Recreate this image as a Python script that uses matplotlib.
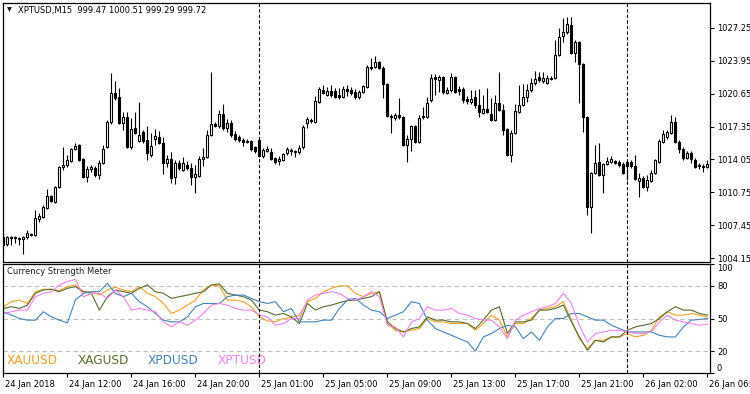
import numpy as np
import matplotlib.pyplot as plt
import matplotlib.transforms as mtransforms

######### data ###############################
symbol_title = "XPTUSD,M15  999.47 1000.51 999.29 999.72"

opens = [1006.3, 1005.6, 1006.2, 1006.3, 1006.2, 1006.1, 1006.3, 1006.6, 1006.5, 1008.1,
         1008.3, 1009.2, 1010.4, 1009.8, 1011.3, 1013.3, 1013.5, 1013.9, 1015.1, 1015.5,
         1014.1, 1012.3, 1013.1, 1013.2, 1012.5, 1013.7, 1015.3, 1017.8, 1020.7, 1020.3,
         1017.7, 1018.3, 1015.3, 1017.2, 1015.9, 1016.8, 1016.0, 1014.5, 1016.1, 1016.3,
         1015.7, 1013.7, 1014.1, 1012.3, 1013.7, 1013.0, 1013.5, 1013.2, 1012.3, 1012.4,
         1014.1, 1014.3, 1016.5, 1017.6, 1017.4, 1018.6, 1017.2, 1017.7, 1016.6, 1016.3,
         1016.0, 1015.8, 1015.9, 1015.3, 1016.0, 1014.4, 1014.9, 1014.8, 1014.2, 1013.9,
         1014.0, 1014.7, 1015.0, 1014.9, 1014.8, 1015.3, 1017.7, 1018.0, 1017.8, 1019.8,
         1021.0, 1020.5, 1020.9, 1020.9, 1020.5, 1020.3, 1021.1, 1021.0, 1020.8, 1020.3,
         1020.8, 1021.3, 1023.3, 1023.3, 1023.8, 1023.2, 1021.6, 1018.4, 1018.2, 1018.5,
         1018.3, 1015.5, 1016.1, 1017.4, 1015.8, 1018.3, 1018.3, 1020.0, 1022.3, 1022.0,
         1022.3, 1020.7, 1021.0, 1022.3, 1021.1, 1021.1, 1020.1, 1019.8, 1020.3, 1019.5,
         1018.7, 1019.1, 1018.6, 1018.0, 1019.7, 1019.0, 1017.1, 1014.5, 1016.7, 1018.8,
         1019.5, 1020.3, 1021.0, 1021.7, 1022.3, 1021.9, 1021.7, 1022.1, 1022.2, 1024.5,
         1026.4, 1026.8, 1027.6, 1024.7, 1025.8, 1023.6, 1018.3, 1009.3, 1012.7, 1013.8,
         1012.5, 1013.6, 1013.8, 1013.9, 1013.8, 1013.6, 1013.8, 1013.8, 1013.4, 1011.9,
         1012.2, 1011.3, 1011.9, 1012.7, 1013.8, 1015.8, 1016.3, 1016.7, 1017.8, 1015.8,
         1015.1, 1014.2, 1014.7, 1014.0, 1013.5, 1013.4, 1013.3]
highs = [1006.7, 1006.4, 1006.4, 1006.4, 1006.3, 1006.4, 1007.0, 1006.7, 1009.0, 1008.7,
         1009.5, 1011.1, 1010.5, 1011.4, 1013.4, 1015.3, 1014.5, 1015.2, 1015.7, 1015.6,
         1014.2, 1013.4, 1013.5, 1013.4, 1014.0, 1015.5, 1018.0, 1022.7, 1021.9, 1021.2,
         1018.8, 1018.8, 1018.2, 1018.8, 1019.8, 1017.0, 1017.4, 1016.7, 1017.1, 1016.9,
         1016.3, 1014.5, 1014.8, 1014.0, 1014.0, 1014.3, 1013.9, 1013.7, 1013.5, 1014.4,
         1015.2, 1017.0, 1022.8, 1017.8, 1019.0, 1019.6, 1018.1, 1018.0, 1016.9, 1016.5,
         1016.2, 1016.1, 1016.0, 1015.4, 1016.2, 1015.2, 1015.4, 1015.2, 1014.3, 1014.4,
         1014.7, 1015.3, 1015.2, 1015.0, 1015.5, 1017.5, 1018.3, 1018.2, 1020.4, 1021.3,
         1021.5, 1021.3, 1021.5, 1021.2, 1021.2, 1021.4, 1021.5, 1021.3, 1021.1, 1021.0,
         1021.5, 1023.5, 1024.2, 1024.4, 1023.9, 1023.4, 1021.7, 1018.6, 1018.7, 1020.2,
         1018.4, 1016.5, 1017.5, 1017.5, 1018.5, 1019.3, 1020.3, 1022.6, 1022.6, 1022.5,
         1022.4, 1021.3, 1022.7, 1022.4, 1021.4, 1021.3, 1020.4, 1021.0, 1021.0, 1021.1,
         1020.5, 1021.2, 1020.2, 1020.5, 1022.8, 1019.6, 1017.2, 1017.0, 1019.6, 1021.5,
         1021.6, 1021.6, 1022.2, 1022.9, 1022.8, 1022.8, 1022.5, 1022.4, 1026.0, 1027.2,
         1028.3, 1028.4, 1028.4, 1026.0, 1025.9, 1023.7, 1018.4, 1012.8, 1015.5, 1015.7,
         1013.7, 1014.3, 1014.4, 1014.0, 1014.0, 1013.8, 1014.0, 1014.0, 1014.5, 1012.7,
         1012.4, 1012.5, 1013.0, 1014.1, 1016.1, 1017.0, 1017.0, 1018.5, 1018.3, 1016.0,
         1015.3, 1014.9, 1014.9, 1014.2, 1013.7, 1013.6, 1014.0]
lows = [1005.4, 1005.4, 1005.5, 1005.7, 1005.5, 1004.6, 1006.1, 1006.4, 1006.4, 1007.8,
        1008.2, 1009.1, 1009.8, 1009.7, 1011.2, 1013.0, 1013.3, 1013.8, 1015.0, 1013.9,
        1012.2, 1011.8, 1012.8, 1012.3, 1012.1, 1013.6, 1015.2, 1017.6, 1020.0, 1017.6,
        1017.0, 1015.2, 1015.1, 1016.6, 1015.8, 1015.7, 1014.0, 1014.3, 1015.5, 1015.6,
        1012.6, 1013.3, 1011.7, 1011.6, 1013.0, 1012.9, 1013.0, 1011.5, 1010.7, 1012.3,
        1013.4, 1014.2, 1016.4, 1017.3, 1017.2, 1017.0, 1016.8, 1016.3, 1015.9, 1015.8,
        1015.4, 1015.7, 1014.9, 1014.7, 1014.3, 1014.2, 1014.8, 1014.0, 1013.6, 1013.5,
        1013.9, 1014.5, 1014.5, 1014.3, 1014.6, 1015.1, 1017.2, 1017.7, 1017.7, 1019.7,
        1020.6, 1020.4, 1020.3, 1020.2, 1020.1, 1020.2, 1020.4, 1020.5, 1020.1, 1020.1,
        1020.7, 1021.2, 1023.0, 1023.2, 1023.1, 1020.2, 1018.3, 1016.7, 1018.0, 1018.1,
        1015.4, 1013.8, 1014.9, 1015.7, 1015.7, 1018.1, 1018.2, 1019.8, 1020.5, 1020.8,
        1020.6, 1020.6, 1020.8, 1020.7, 1020.5, 1019.7, 1019.6, 1019.6, 1019.2, 1018.3,
        1018.6, 1018.7, 1017.9, 1017.9, 1018.9, 1016.5, 1014.4, 1013.8, 1016.6, 1018.7,
        1019.4, 1019.8, 1020.8, 1021.5, 1021.8, 1021.7, 1021.6, 1022.0, 1022.1, 1024.4,
        1025.8, 1026.6, 1024.6, 1023.8, 1019.7, 1016.8, 1008.5, 1006.7, 1012.6, 1012.4,
        1010.7, 1013.5, 1013.7, 1013.6, 1013.3, 1012.6, 1012.0, 1013.2, 1012.0, 1010.3,
        1011.2, 1010.9, 1011.8, 1012.6, 1013.7, 1015.7, 1016.1, 1016.6, 1015.7, 1014.7,
        1014.0, 1014.1, 1013.7, 1013.2, 1013.1, 1012.8, 1013.2]
closes = [1005.5, 1006.3, 1006.3, 1006.2, 1006.1, 1006.3, 1006.7, 1006.5, 1008.2, 1008.4,
          1009.3, 1010.4, 1009.9, 1011.3, 1013.3, 1013.5, 1014.0, 1015.1, 1015.4, 1014.0,
          1012.3, 1013.1, 1013.3, 1012.5, 1013.7, 1015.1, 1017.8, 1020.7, 1020.2, 1017.7,
          1018.3, 1015.3, 1017.1, 1016.7, 1016.5, 1015.9, 1014.7, 1015.4, 1016.4, 1015.7,
          1013.7, 1014.1, 1012.2, 1013.7, 1013.2, 1013.7, 1013.2, 1012.3, 1012.6, 1014.1,
          1014.3, 1016.5, 1017.6, 1017.4, 1018.6, 1017.2, 1017.7, 1016.5, 1016.1, 1016.0,
          1015.8, 1015.9, 1015.1, 1014.9, 1014.4, 1015.0, 1015.1, 1014.1, 1013.8, 1014.1,
          1014.6, 1015.1, 1014.9, 1014.8, 1015.2, 1017.3, 1018.1, 1017.9, 1019.9, 1021.1,
          1020.7, 1020.9, 1020.5, 1020.3, 1020.3, 1021.1, 1020.9, 1020.7, 1020.3, 1020.8,
          1021.4, 1023.3, 1023.2, 1023.8, 1023.2, 1021.6, 1018.4, 1018.3, 1018.5, 1018.3,
          1015.5, 1016.1, 1017.4, 1015.8, 1018.2, 1018.4, 1019.7, 1022.2, 1022.1, 1022.3,
          1020.8, 1021.0, 1022.3, 1020.8, 1020.9, 1020.0, 1019.9, 1020.1, 1019.5, 1018.8,
          1019.1, 1018.8, 1018.0, 1019.7, 1019.0, 1017.0, 1014.5, 1016.7, 1018.9, 1019.5,
          1020.3, 1021.0, 1021.7, 1022.1, 1022.0, 1022.2, 1022.2, 1022.2, 1024.5, 1026.3,
          1026.8, 1027.7, 1024.7, 1025.8, 1023.6, 1018.3, 1009.3, 1012.7, 1013.7, 1012.5,
          1013.6, 1013.9, 1014.1, 1013.7, 1013.5, 1012.7, 1013.4, 1013.4, 1012.1, 1012.2,
          1011.3, 1012.0, 1012.7, 1014.0, 1015.9, 1016.6, 1016.8, 1017.8, 1015.8, 1015.1,
          1014.2, 1014.7, 1014.1, 1013.3, 1013.4, 1013.3, 1013.6]

price_ticks = [1027.25, 1023.95, 1020.65, 1017.35, 1014.05, 1010.75, 1007.45, 1004.15]

# strength meter, one reading every second bar
strength_bars = list(range(0, 177, 2))
xauusd = [60.8, 65.4, 66.9, 63.8, 74.6, 76.8, 76.8, 75.5, 79.2, 80.8, 74.6, 74.6, 71.5, 76.2, 78.6,
          76.2, 74.6, 79.2, 73.1, 70.0, 63.8, 54.6, 57.7, 62.3, 66.9, 76.2, 80.8, 79.9, 66.9, 66.9,
          65.4, 60.8, 51.5, 47.8, 46.9, 50.0, 50.9, 53.1, 65.4, 68.5, 74.6, 77.7, 79.9, 79.9, 73.1,
          70.0, 73.1, 74.6, 45.4, 39.2, 37.7, 39.2, 40.8, 50.0, 46.9, 46.9, 45.4, 45.4, 45.4, 39.2,
          45.4, 53.1, 48.5, 33.1, 45.4, 45.4, 50.0, 57.7, 59.2, 60.8, 65.4, 48.5, 31.5, 22.3, 30.0,
          30.0, 33.1, 33.1, 36.2, 33.1, 34.6, 39.2, 51.5, 56.2, 53.1, 53.1, 54.6, 53.1, 51.5]
xagusd = [59.2, 60.8, 59.2, 62.3, 73.1, 76.2, 76.8, 74.6, 77.7, 79.2, 74.6, 73.1, 57.7, 70.0, 76.2,
          74.6, 73.1, 77.7, 80.8, 74.6, 73.1, 68.5, 70.0, 71.5, 73.1, 74.6, 80.8, 81.7, 73.1, 71.5,
          70.0, 66.9, 57.7, 56.2, 53.1, 54.6, 51.5, 45.4, 63.8, 57.7, 60.8, 62.3, 64.5, 66.5, 66.9,
          68.5, 70.0, 74.6, 46.9, 40.8, 37.7, 40.8, 42.3, 51.5, 48.5, 48.5, 46.9, 46.9, 45.4, 40.8,
          48.5, 57.7, 60.8, 36.2, 46.9, 46.9, 48.5, 57.7, 57.7, 59.2, 62.3, 46.9, 33.1, 20.8, 30.0,
          28.5, 33.1, 33.1, 39.2, 42.3, 43.8, 45.4, 50.0, 56.2, 60.8, 57.7, 57.7, 54.6, 53.1]
xpdusd = [56.2, 53.1, 50.0, 48.5, 48.5, 56.2, 51.5, 48.5, 46.0, 66.9, 73.1, 74.6, 74.6, 82.3, 73.1,
          70.0, 73.1, 65.4, 60.8, 54.6, 48.5, 46.9, 46.9, 51.5, 60.8, 63.8, 63.8, 63.8, 70.0, 71.5,
          71.5, 68.5, 65.4, 63.8, 65.4, 56.2, 59.2, 46.9, 46.9, 46.9, 48.5, 48.5, 59.2, 66.9, 68.5,
          62.3, 57.7, 56.2, 50.0, 53.1, 56.2, 65.4, 63.8, 48.5, 40.8, 37.7, 34.6, 31.5, 28.5, 20.2,
          33.1, 36.2, 40.8, 43.8, 42.3, 31.5, 37.7, 30.0, 42.3, 50.0, 50.0, 54.6, 54.6, 51.5, 48.5,
          48.5, 43.8, 40.8, 37.7, 37.7, 37.7, 37.7, 34.6, 33.1, 33.1, 42.3, 48.5, 49.1, 50.0]
xptusd = [54.6, 56.2, 57.7, 57.7, 70.0, 73.1, 74.6, 80.8, 83.8, 86.0, 70.0, 73.1, 73.1, 68.5, 76.2,
          70.0, 57.7, 59.2, 57.7, 56.2, 46.9, 42.3, 46.9, 43.8, 48.5, 54.6, 62.3, 63.8, 62.3, 59.2,
          57.7, 57.7, 53.1, 51.5, 43.8, 45.4, 50.0, 50.0, 66.9, 71.5, 73.1, 74.6, 73.1, 68.5, 66.9,
          70.0, 74.6, 70.0, 43.8, 42.3, 33.1, 46.9, 50.0, 60.8, 57.7, 57.7, 59.2, 54.6, 53.1, 50.0,
          48.5, 48.5, 42.3, 31.5, 48.5, 53.1, 56.2, 59.2, 60.8, 63.8, 73.1, 63.8, 43.8, 28.5, 36.2,
          37.7, 39.2, 39.2, 37.7, 36.2, 36.2, 37.7, 46.9, 53.1, 48.5, 46.9, 45.4, 43.8, 44.8]
strength_names = ["XAUUSD", "XAGUSD", "XPDUSD", "XPTUSD"]
strength_colors = ["#F0A028", "#556B2F", "#4682B4", "#EE82EE"]
level_ticks = [100, 80, 50, 20, 0]

time_labels = ["24 Jan 2018", "24 Jan 12:00", "24 Jan 16:00", "24 Jan 20:00", "25 Jan 01:00",
               "25 Jan 05:00", "25 Jan 09:00", "25 Jan 13:00", "25 Jan 17:00", "25 Jan 21:00",
               "26 Jan 02:00", "26 Jan 06:00"]
time_label_bars = [0, 16, 32, 48, 64, 80, 96, 112, 128, 144, 160, 176]
separator_bars = [64, 156]
##################################################

plt.rcParams['font.family'] = ['DejaVu Sans']
W, H = 750, 394
fig = plt.figure(figsize=(W / 100, H / 100), dpi=100)
fig.patch.set_facecolor('white')

ax = fig.add_axes([3 / W, 1 - 262 / H, 707 / W, 259 / H])
ax2 = fig.add_axes([3 / W, 1 - 373 / H, 707 / W, 109 / H])

#### candles ####
o = np.array(opens); h = np.array(highs); l = np.array(lows); c = np.array(closes)
x = np.arange(len(c))
up = c >= o
ax.vlines(x, l, h, color='black', lw=0.8, zorder=1)
bottom = np.minimum(o, c)
height = np.abs(c - o)
ax.bar(x[up], height[up], bottom=bottom[up], width=0.5, color='white',
       edgecolor='black', lw=0.8, zorder=2)
ax.bar(x[~up], height[~up], bottom=bottom[~up], width=0.5, color='black',
       edgecolor='black', lw=0.8, zorder=2)

xlim = (-0.1, 176.65)
ax.set_xlim(*xlim)
ax.set_ylim(1003.75, 1029.76)
ax.set_xticks([])
ax.yaxis.tick_right()
ax.set_yticks(price_ticks)
ax.set_yticklabels([f"{p:.2f}" for p in price_ticks])
ax.tick_params(axis='y', direction='out', length=3, width=0.8, labelsize=6, pad=2)
for s in ax.spines.values():
    s.set_linewidth(0.9)

ax.text(9 / W, 1 - 10 / H, "\u25bc", transform=fig.transFigure, fontsize=4.5,
        ha='center', va='center')
ax.text(18 / W, 1 - 10 / H, symbol_title, transform=fig.transFigure, fontsize=6,
        ha='left', va='center')

#### currency strength meter ####
for lvl in [80, 50, 20]:
    ax2.axhline(lvl, color='#C0C0C0', lw=0.8, ls=(0, (4, 3)), zorder=1)
for name, vals, col in zip(strength_names, [xauusd, xagusd, xpdusd, xptusd], strength_colors):
    ax2.plot(strength_bars, vals, color=col, lw=0.8, zorder=2)

ax2.set_xlim(*xlim)
ax2.set_ylim(0, 100)
ax2.yaxis.tick_right()
ax2.set_yticks(level_ticks)
ax2.set_yticklabels([str(v) for v in level_ticks])
ax2.tick_params(axis='y', direction='out', length=3, width=0.8, labelsize=6, pad=2)
ylabs = ax2.get_yticklabels()
ylabs[0].set_va('top')
ylabs[-1].set_va('bottom')

ax2.set_xticks(time_label_bars)
ax2.set_xticklabels(time_labels)
ax2.tick_params(axis='x', direction='out', length=3, width=0.8, labelsize=6, pad=2)
offset = mtransforms.ScaledTranslation(2 / 100, 0, fig.dpi_scale_trans)
for lbl in ax2.get_xticklabels():
    lbl.set_ha('left')
    lbl.set_transform(lbl.get_transform() + offset)
for s in ax2.spines.values():
    s.set_linewidth(0.9)

ax2.text(7 / W, 1 - 272 / H, "Currency Strength Meter", transform=fig.transFigure,
         fontsize=6, ha='left', va='center', color='#202020')
legend_x = [7, 78, 148, 218]
for name, col, lx in zip(strength_names, strength_colors, legend_x):
    ax2.text(lx / W, 1 - 360 / H, name, transform=fig.transFigure, fontsize=8.7,
             ha='left', va='center', color=col)

for b in separator_bars:
    ax.axvline(b, color='black', lw=0.8, ls=(0, (3, 2)), zorder=0)
    ax2.axvline(b, color='black', lw=0.8, ls=(0, (3, 2)), zorder=3)

fig.savefig("out.png", dpi=100, facecolor='white')
